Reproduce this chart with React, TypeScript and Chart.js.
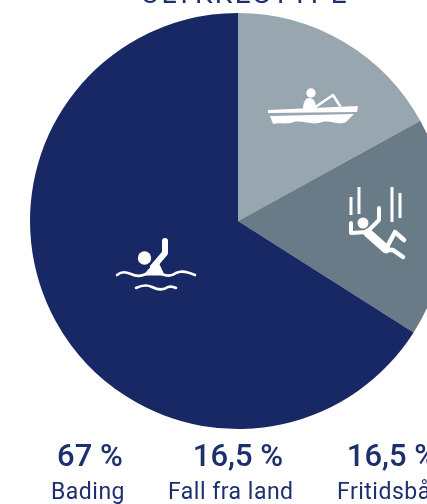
import React, { useEffect, useRef } from "react";
import { Chart, registerables } from "chart.js";

Chart.register(...registerables);

const categories = ["Fritidsbåt", "Fall fra land", "Bading"];
const sliceShares = [17, 17, 66];
const sliceColors = ["#97a6af", "#6a7b88", "#182864"];
const stats = ["67 %", "16,5 %", "16,5 %"];
const statLabels = ["Bading", "Fall fra land", "Fritidsbåt"];
const statCenters = [90, 238, 392];
const labelStarts = [51, 168, 337];
const titleText = "ULYKKESTYPE";
const NAVY = "#1e2f6e";

const textPlugin = {
  id: "texts",
  afterDraw(chart: any) {
    const c = chart.ctx;
    c.save();
    c.fillStyle = NAVY;
    c.textBaseline = "alphabetic";
    c.textAlign = "center";
    c.font = '400 28px "Roboto"';
    c.letterSpacing = "2.4px";
    c.fillText(titleText, 245, 3);
    statCenters.forEach((x, i) => {
      c.textAlign = "center";
      c.letterSpacing = "0px";
      c.font = '500 31px "Roboto"';
      c.fillText(stats[i], x, 466);
      c.textAlign = "left";
      c.letterSpacing = "0.5px";
      c.font = '400 23px "Roboto"';
      c.fillText(statLabels[i], labelStarts[i], 499);
    });
    c.restore();
  },
};

function Icons() {
  const w = { stroke: "#fff", fill: "none", strokeLinecap: "round" as const, strokeLinejoin: "round" as const };
  return (
    <svg width={427} height={504} style={{ position: "absolute", left: 0, top: 0 }}>
      {/* boat */}
      <circle cx={311} cy={93} r={4.7} fill="#fff" />
      <path d="M303 110 C303 101 306 98 309 98 C314 98 316 102 316 110Z" fill="#fff" />
      <path d="M314 108 L333 95 L340 106" {...w} strokeWidth={2.5} />
      <path d="M268 110 L358 106 L357 112 L268 113Z" fill="#fff" />
      <path d="M270 116 L354 114 L346 122 C338 126 332 120 322 122 C312 126 304 120 294 122 C286 125 280 122 273 124Z" fill="#fff" />
      {/* falling person */}
      <path d="M351 197 V215 M359 187 V214 M392 187 V222 M400 193 V218" stroke="#fff" strokeWidth={3} />
      <circle cx={363} cy={223} r={5.5} fill="#fff" />
      <path d="M351 223 V233 L367 232 L379 220 V208" {...w} strokeWidth={4} />
      <path d="M368 233 L386 249" {...w} strokeWidth={9} />
      <path d="M387 247 L395 232 L404 240" {...w} strokeWidth={4.5} />
      <path d="M386 250 L393 250 L403 257" {...w} strokeWidth={4.5} />
      {/* swimmer */}
      <circle cx={144.5} cy={258} r={6.7} fill="#fff" />
      <path d="M165 241 V253 L153 267" {...w} strokeWidth={6} />
      <path d="M144 275 L157 260 L164 275Z" fill="#fff" stroke="#fff" strokeWidth={1} />
      <path d="M117 275 C122 271 126 272 131 274 C137 277 141 276 146 274 M162 274 C168 277 172 276 176 273 C182 270 188 272 195 275" {...w} strokeWidth={2.6} />
      <path d="M136 288 C142 285 148 285 152 287 C158 290 164 290 168 287 C171 286 174 287 176 288" {...w} strokeWidth={2.6} />
    </svg>
  );
}

export default function App() {
  const ref = useRef<HTMLCanvasElement>(null);
  useEffect(() => {
    document.body.style.margin = "0";
    document.body.style.overflow = "hidden";
    const chart = new Chart(ref.current!, {
      type: "pie",
      data: {
        labels: categories,
        datasets: [{ data: sliceShares, backgroundColor: sliceColors, borderWidth: 0 }],
      },
      options: {
        responsive: false,
        animation: false,
        radius: 208,
        layout: { padding: { bottom: 62 } },
        plugins: { legend: { display: false }, tooltip: { enabled: false } },
      },
      plugins: [textPlugin],
    } as any);
    return () => chart.destroy();
  }, []);
  return (
    <div style={{ position: "relative", width: 427, height: 504, overflow: "hidden" }}>
      <canvas ref={ref} width={476} height={504} style={{ display: "block", width: 476, height: 504 }} />
      <Icons />
    </div>
  );
}
